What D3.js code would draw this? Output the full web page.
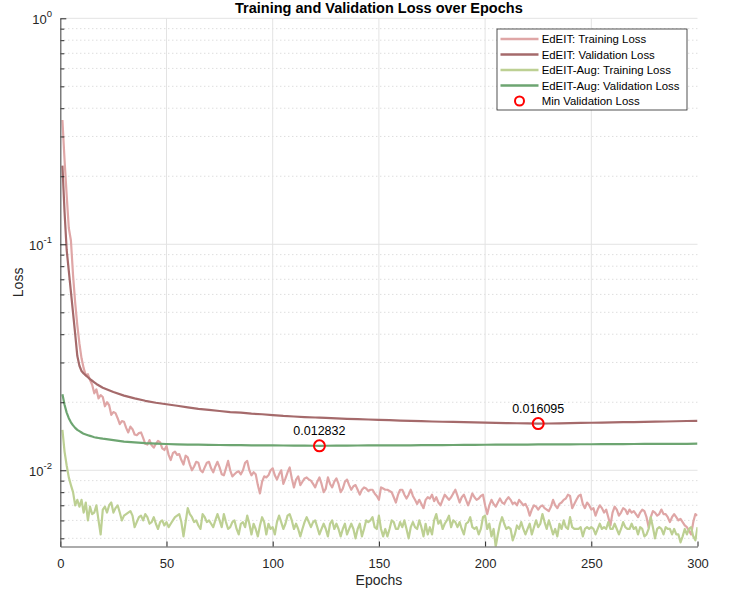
<!DOCTYPE html>
<html>
<head>
<meta charset="utf-8">
<script src="https://cdn.jsdelivr.net/npm/d3@7"></script>
<style>
  body { margin: 0; background: #fff; }
  text { font-family: "Liberation Sans", Arial, Helvetica, sans-serif; fill: #262626; }
</style>
</head>
<body>
<div id="chart"></div>
<script>
// ---- data ----
var seriesNames = ["EdEIT: Training Loss", "EdEIT: Validation Loss",
                   "EdEIT-Aug: Training Loss", "EdEIT-Aug: Validation Loss"];
var markerName = "Min Validation Loss";

var epochs = d3.range(1, 301);

var edeitTrain = [
  0.355, 0.236, 0.165, 0.118, 0.104, 0.073, 0.0552, 0.0439, 0.0364, 0.0313,
  0.0283, 0.0263, 0.0266, 0.0251, 0.0239, 0.0219, 0.0228, 0.0208, 0.0215, 0.0211,
  0.0192, 0.0200, 0.0194, 0.0176, 0.0181, 0.0179, 0.0170, 0.0160, 0.0165, 0.0164,
  0.0154, 0.0147, 0.0156, 0.0152, 0.0144, 0.0143, 0.0146, 0.0147, 0.0139, 0.0131,
  0.0130, 0.0136, 0.0129, 0.0126, 0.0131, 0.0135, 0.0133, 0.0125, 0.0123, 0.0128,
  0.0117, 0.0111, 0.0119, 0.0121, 0.0117, 0.0118, 0.0111, 0.0106, 0.0116, 0.0114,
  0.0106, 0.0100, 0.0104, 0.0109, 0.0108, 0.0100, 0.0098, 0.0103, 0.0108, 0.0109,
  0.0102, 0.0098, 0.0104, 0.0109, 0.0103, 0.0096, 0.0095, 0.0102, 0.0110, 0.0100,
  0.0094, 0.0096, 0.0098, 0.0099, 0.0096, 0.0100, 0.0108, 0.0110, 0.0100, 0.0095,
  0.0098, 0.0096, 0.0086, 0.0079, 0.0089, 0.0094, 0.0093, 0.0095, 0.0100, 0.0102,
  0.0095, 0.0091, 0.0096, 0.0100, 0.0087, 0.0092, 0.0098, 0.0103, 0.0092, 0.0084,
  0.0091, 0.0094, 0.0086, 0.0089, 0.0092, 0.0093, 0.0091, 0.0090, 0.0087, 0.0084,
  0.0089, 0.0093, 0.0087, 0.0080, 0.0083, 0.0093, 0.0087, 0.0084, 0.0089, 0.0092,
  0.0087, 0.0080, 0.0083, 0.0089, 0.0091, 0.0086, 0.0082, 0.0085, 0.0086, 0.0082,
  0.0078, 0.0082, 0.0084, 0.0083, 0.0081, 0.0082, 0.0082, 0.0079, 0.0077, 0.0074,
  0.0084, 0.0083, 0.0082, 0.0082, 0.0081, 0.0080, 0.0076, 0.0072, 0.0078, 0.0082,
  0.0082, 0.0078, 0.0075, 0.0078, 0.0082, 0.0077, 0.0074, 0.0071, 0.0074, 0.0071,
  0.0068, 0.0074, 0.0076, 0.0075, 0.0078, 0.0073, 0.0076, 0.0072, 0.0070, 0.0074,
  0.0078, 0.0076, 0.0074, 0.0076, 0.0079, 0.0082, 0.0077, 0.0072, 0.0076, 0.0078,
  0.0074, 0.0070, 0.0074, 0.0079, 0.0076, 0.0074, 0.0075, 0.0077, 0.0078, 0.0070,
  0.0064, 0.0070, 0.0074, 0.0071, 0.0069, 0.0072, 0.0075, 0.0072, 0.0071, 0.0074,
  0.0076, 0.0074, 0.0071, 0.0072, 0.0070, 0.0074, 0.0072, 0.0070, 0.0071, 0.0068,
  0.0063, 0.0067, 0.0070, 0.0069, 0.0067, 0.0069, 0.0070, 0.0068, 0.0067, 0.0066,
  0.0069, 0.0074, 0.0070, 0.0068, 0.0071, 0.0072, 0.0074, 0.0075, 0.0078, 0.0077,
  0.0068, 0.0071, 0.0074, 0.0077, 0.0078, 0.0071, 0.0068, 0.0072, 0.0070, 0.0067,
  0.0068, 0.0063, 0.0067, 0.0070, 0.0068, 0.0065, 0.0067, 0.0062, 0.0057, 0.0065,
  0.0069, 0.0067, 0.0063, 0.0065, 0.0068, 0.0067, 0.0064, 0.0067, 0.0065, 0.0066,
  0.0064, 0.0062, 0.0065, 0.0067, 0.0066, 0.0062, 0.0056, 0.0062, 0.0066, 0.0065,
  0.0063, 0.0064, 0.0067, 0.0064, 0.0064, 0.0062, 0.0059, 0.0062, 0.0064, 0.0062,
  0.0060, 0.0061, 0.0059, 0.0057, 0.0056, 0.0054, 0.0052, 0.0059, 0.0064, 0.0063
];

var augTrain = [
  0.0151, 0.0121, 0.0105, 0.0093, 0.0086, 0.0080, 0.0070, 0.0074, 0.0069, 0.0074,
  0.0065, 0.0072, 0.0060, 0.0069, 0.0064, 0.0065, 0.0070, 0.0060, 0.0052, 0.0067,
  0.0069, 0.0065, 0.0070, 0.0072, 0.0065, 0.0068, 0.0070, 0.0065, 0.0060, 0.0063,
  0.0064, 0.0065, 0.0066, 0.0063, 0.0056, 0.0059, 0.0062, 0.0063, 0.0060, 0.0064,
  0.0062, 0.0058, 0.0059, 0.0062, 0.0058, 0.0055, 0.0059, 0.0060, 0.0057, 0.0059,
  0.0056, 0.0058, 0.0060, 0.0062, 0.0063, 0.0064, 0.0059, 0.0051, 0.0059, 0.0068,
  0.0064, 0.0062, 0.0059, 0.0060, 0.0057, 0.0055, 0.0064, 0.0062, 0.0059, 0.0060,
  0.0058, 0.0056, 0.0060, 0.0064, 0.0060, 0.0056, 0.0064, 0.0059, 0.0055, 0.0056,
  0.0059, 0.0060, 0.0055, 0.0052, 0.0058, 0.0059, 0.0056, 0.0063, 0.0058, 0.0052,
  0.0058, 0.0055, 0.0051, 0.0057, 0.0062, 0.0059, 0.0052, 0.0058, 0.0055, 0.0056,
  0.0052, 0.0059, 0.0063, 0.0059, 0.0055, 0.0058, 0.0063, 0.0064, 0.0060, 0.0055,
  0.0058, 0.0055, 0.0051, 0.0055, 0.0059, 0.0062, 0.0059, 0.0056, 0.0059, 0.0060,
  0.0056, 0.0052, 0.0055, 0.0058, 0.0055, 0.0051, 0.0058, 0.0060, 0.0055, 0.0058,
  0.0055, 0.0051, 0.0055, 0.0058, 0.0052, 0.0055, 0.0058, 0.0055, 0.0050, 0.0055,
  0.0058, 0.0051, 0.0055, 0.0060, 0.0059, 0.0060, 0.0062, 0.0056, 0.0055, 0.0063,
  0.0055, 0.0051, 0.0055, 0.0051, 0.0055, 0.0060, 0.0059, 0.0055, 0.0055, 0.0059,
  0.0056, 0.0060, 0.0055, 0.0050, 0.0056, 0.0059, 0.0056, 0.0055, 0.0060, 0.0056,
  0.0051, 0.0058, 0.0052, 0.0056, 0.0052, 0.0060, 0.0064, 0.0058, 0.0060, 0.0055,
  0.0058, 0.0060, 0.0063, 0.0056, 0.0060, 0.0059, 0.0056, 0.0059, 0.0055, 0.0052,
  0.0058, 0.0059, 0.0062, 0.0056, 0.0055, 0.0056, 0.0052, 0.0055, 0.0062, 0.0063,
  0.0055, 0.0058, 0.0051, 0.0055, 0.0046, 0.0052, 0.0058, 0.0062, 0.0058, 0.0055,
  0.0056, 0.0055, 0.0049, 0.0052, 0.0057, 0.0055, 0.0059, 0.0055, 0.0052, 0.0055,
  0.0058, 0.0052, 0.0056, 0.0060, 0.0056, 0.0058, 0.0064, 0.0059, 0.0055, 0.0060,
  0.0056, 0.0052, 0.0055, 0.0051, 0.0058, 0.0055, 0.0060, 0.0056, 0.0055, 0.0062,
  0.0056, 0.0055, 0.0055, 0.0055, 0.0056, 0.0051, 0.0055, 0.0056, 0.0055, 0.0056,
  0.0055, 0.0052, 0.0055, 0.0058, 0.0055, 0.0056, 0.0055, 0.0059, 0.0055, 0.0055,
  0.0058, 0.0055, 0.0052, 0.0055, 0.0059, 0.0056, 0.0055, 0.0055, 0.0058, 0.0055,
  0.0056, 0.0052, 0.0056, 0.0055, 0.0051, 0.0052, 0.0055, 0.0062, 0.0056, 0.0050,
  0.0055, 0.0056, 0.0055, 0.0052, 0.0056, 0.0055, 0.0055, 0.0052, 0.0055, 0.0052,
  0.0052, 0.0048, 0.0051, 0.0055, 0.0052, 0.0055, 0.0056, 0.0051, 0.0049, 0.0056
];

// validation curves are smooth, read at these epochs
var valEpochs = [
  1, 2, 3, 4, 5, 6, 7, 8, 9, 10, 11, 12, 13, 14, 15, 16, 17, 18, 19, 20,
  25, 30, 35, 40, 45, 50, 55, 60, 65, 70, 75, 80, 85, 90, 95, 100, 105, 110, 115, 120,
  122, 125, 130, 135, 140, 145, 150, 155, 160, 165, 170, 175, 180, 185, 190, 195,
  200, 205, 210, 215, 220, 225, 230, 235, 240, 245, 250, 255, 260, 265, 270, 275,
  280, 285, 290, 295, 300
];

var edeitVal = [
  0.223, 0.139, 0.0944, 0.0762, 0.0616, 0.0497, 0.0401, 0.0321, 0.0290, 0.0275,
  0.0268, 0.0263, 0.0258, 0.0253, 0.0249, 0.0245, 0.0241, 0.0238, 0.0235, 0.0232,
  0.0222, 0.0214, 0.0208, 0.0203, 0.0199, 0.0196, 0.0193, 0.0190, 0.0187, 0.0185,
  0.0183, 0.0181, 0.0180, 0.0178, 0.0177, 0.01755, 0.0174, 0.0173, 0.0172, 0.01712,
  0.01709, 0.01705, 0.01698, 0.0169, 0.01685, 0.01678, 0.01672, 0.01666, 0.0166, 0.01654,
  0.01649, 0.01644, 0.0164, 0.01636, 0.01632, 0.01628,
  0.01624, 0.01621, 0.01618, 0.01615, 0.01612, 0.016095, 0.01611, 0.01614, 0.01617, 0.0162,
  0.01623, 0.01626, 0.01629, 0.01632, 0.01635, 0.01638,
  0.01641, 0.01644, 0.01648, 0.01652, 0.01656
];

var augVal = [
  0.0217, 0.0195, 0.0180, 0.0170, 0.0163, 0.0158, 0.0154, 0.0151, 0.0149, 0.0147,
  0.0145, 0.0144, 0.0143, 0.0142, 0.0141, 0.0140, 0.01395, 0.0139, 0.01385, 0.0138,
  0.0136, 0.0134, 0.0133, 0.01318, 0.01312, 0.01307, 0.01303, 0.0130, 0.01298, 0.01296,
  0.01294, 0.01292, 0.01291, 0.0129, 0.01289, 0.01288, 0.01287, 0.01286, 0.01285, 0.01284,
  0.012832, 0.01284, 0.01285, 0.01286, 0.01287, 0.01288, 0.01288, 0.01289, 0.0129, 0.0129,
  0.01291, 0.01292, 0.01293, 0.01294, 0.01295, 0.01296,
  0.01297, 0.01298, 0.01298, 0.01299, 0.013, 0.01301, 0.01302, 0.01302, 0.01303, 0.01304,
  0.01304, 0.01305, 0.01306, 0.01306, 0.01307, 0.01308,
  0.01308, 0.01309, 0.0131, 0.0131, 0.01311
];

var xTicks = [0, 50, 100, 150, 200, 250, 300];
var yMajor = [1, 0.1, 0.01];
var yMajorExp = ["0", "-1", "-2"];

// ---- layout ----
var width = 732, height = 590;
var colors = ["#dfa6a6", "#a56a6b", "#bdd093", "#6da571"];

var svg = d3.select("#chart").append("svg")
    .attr("width", width)
    .attr("height", height);

svg.append("rect").attr("width", width).attr("height", height).attr("fill", "#fff");

var x = d3.scaleLinear().domain([0, 300]).range([60.3, 697.5]);
var y = d3.scaleLog().domain([0.0046, 1]).range([546.5, 18.3]);

var x0 = x.range()[0], x1 = x.range()[1];
var yTop = y.range()[1], yBot = y.range()[0];

// grid
var allTicks = y.ticks();
var isMajor = function (v) { return Math.abs(Math.log10(v) - Math.round(Math.log10(v))) < 1e-9; };

svg.append("g").selectAll("line")
    .data(allTicks.filter(function (v) { return !isMajor(v); }))
    .enter().append("line")
    .attr("x1", x0).attr("x2", x1)
    .attr("y1", function (d) { return y(d); }).attr("y2", function (d) { return y(d); })
    .attr("stroke", "#c4c4c4").attr("stroke-width", 0.8)
    .attr("stroke-dasharray", "1,3");

svg.append("g").selectAll("line")
    .data(yMajor)
    .enter().append("line")
    .attr("x1", x0).attr("x2", x1)
    .attr("y1", function (d) { return y(d); }).attr("y2", function (d) { return y(d); })
    .attr("stroke", "#e3e3e3").attr("stroke-width", 1);

svg.append("g").selectAll("line")
    .data(xTicks.filter(function (t) { return t > 0 && t < 300; }))
    .enter().append("line")
    .attr("x1", function (d) { return x(d); }).attr("x2", function (d) { return x(d); })
    .attr("y1", yTop).attr("y2", yBot)
    .attr("stroke", "#e3e3e3").attr("stroke-width", 1);

// lines
svg.append("clipPath").attr("id", "clip")
  .append("rect").attr("x", x0).attr("y", yTop).attr("width", x1 - x0).attr("height", yBot - yTop);

var line = d3.line()
    .x(function (d) { return x(d[0]); })
    .y(function (d) { return y(d[1]); });

var series = [
  d3.zip(epochs, edeitTrain),
  d3.zip(valEpochs, edeitVal),
  d3.zip(epochs, augTrain),
  d3.zip(valEpochs, augVal)
];

var plot = svg.append("g").attr("clip-path", "url(#clip)");
series.forEach(function (s, i) {
  plot.append("path")
      .datum(s)
      .attr("fill", "none")
      .attr("stroke", colors[i])
      .attr("stroke-width", 2.2)
      .attr("stroke-linejoin", "round")
      .attr("d", line);
});

// min validation markers
var fmt = d3.format(".5r");
[[valEpochs, edeitVal], [valEpochs, augVal]].forEach(function (p) {
  var i = d3.minIndex(p[1]);
  var cx = x(p[0][i]), cy = y(p[1][i]);
  svg.append("circle")
      .attr("cx", cx).attr("cy", cy).attr("r", 5.5)
      .attr("fill", "none").attr("stroke", "#ff0000").attr("stroke-width", 2);
  svg.append("text")
      .attr("x", cx).attr("y", cy - 11)
      .attr("text-anchor", "middle")
      .attr("font-size", "12.5px")
      .style("fill", "#000")
      .text(fmt(p[1][i]));
});

// axes (MATLAB style: inward ticks, no box)
var axisColor = "#5a5a5a";

var xAxis = svg.append("g")
    .attr("transform", "translate(0," + yBot + ")")
    .call(d3.axisBottom(x).tickValues(xTicks).tickSizeInner(-5).tickSizeOuter(0).tickPadding(12));
xAxis.select(".domain").attr("stroke", axisColor).attr("stroke-width", 1.2);
xAxis.selectAll(".tick line").attr("stroke", "#262626");
xAxis.selectAll(".tick text").attr("font-size", "13px").style("fill", "#262626")
    .attr("font-family", "Liberation Sans, Arial, sans-serif");

var yAxisMinor = svg.append("g")
    .attr("transform", "translate(" + x0 + ",0)")
    .call(d3.axisLeft(y).tickValues(allTicks.filter(function (v) { return !isMajor(v); }))
          .tickSizeInner(-4).tickSizeOuter(0).tickFormat(""));
yAxisMinor.select(".domain").remove();
yAxisMinor.selectAll(".tick line").attr("stroke", "#262626");

var yAxis = svg.append("g")
    .attr("transform", "translate(" + x0 + ",0)")
    .call(d3.axisLeft(y).tickValues(yMajor).tickSizeInner(-6).tickSizeOuter(0).tickFormat(""));
yAxis.select(".domain").attr("stroke", axisColor).attr("stroke-width", 1.2);
yAxis.selectAll(".tick line").attr("stroke", "#262626");

// y tick labels: 10^n
yMajor.forEach(function (v, i) {
  var t = svg.append("text")
      .attr("x", 52).attr("y", y(v) + 6)
      .attr("text-anchor", "end")
      .attr("font-size", "13px")
      .text("10");
  t.append("tspan")
      .attr("dy", -7)
      .attr("font-size", "9.5px")
      .text(yMajorExp[i]);
});

// titles
svg.append("text")
    .attr("x", (x0 + x1) / 2).attr("y", 13)
    .attr("text-anchor", "middle")
    .attr("font-size", "14.5px").attr("font-weight", "bold")
    .style("fill", "#000")
    .text("Training and Validation Loss over Epochs");

svg.append("text")
    .attr("x", (x0 + x1) / 2).attr("y", 585)
    .attr("text-anchor", "middle")
    .attr("font-size", "14px")
    .text("Epochs");

svg.append("text")
    .attr("transform", "translate(23," + ((yTop + yBot) / 2) + ") rotate(-90)")
    .attr("text-anchor", "middle")
    .attr("font-size", "14px")
    .text("Loss");

// legend
var legend = svg.append("g").attr("transform", "translate(497,29)");
legend.append("rect")
    .attr("width", 190).attr("height", 81)
    .attr("fill", "#fff").attr("stroke", "#262626").attr("stroke-width", 0.8);

var rows = [10, 25.5, 41, 56.5, 72];
seriesNames.forEach(function (name, i) {
  legend.append("line")
      .attr("x1", 3.5).attr("x2", 41.5)
      .attr("y1", rows[i]).attr("y2", rows[i])
      .attr("stroke", colors[i]).attr("stroke-width", 2.4);
  legend.append("text")
      .attr("x", 44.7).attr("y", rows[i] + 4)
      .attr("font-size", "11.4px")
      .style("fill", "#000")
      .text(name);
});
legend.append("circle")
    .attr("cx", 22.5).attr("cy", rows[4]).attr("r", 4.5)
    .attr("fill", "none").attr("stroke", "#ff0000").attr("stroke-width", 2);
legend.append("text")
    .attr("x", 44.7).attr("y", rows[4] + 4)
    .attr("font-size", "11.4px")
    .style("fill", "#000")
    .text(markerName);
</script>
</body>
</html>
